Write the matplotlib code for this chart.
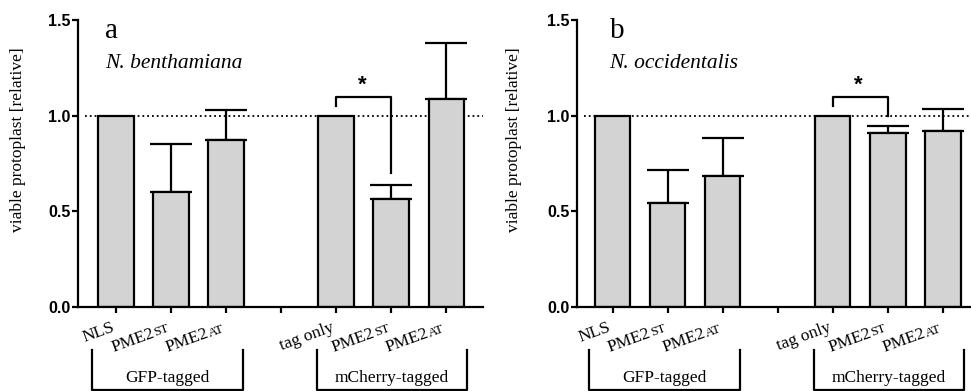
import numpy as np
import matplotlib
matplotlib.use("Agg")
import matplotlib.pyplot as plt
from matplotlib.transforms import ScaledTranslation
from matplotlib.font_manager import FontProperties

plt.rcParams['font.family'] = 'serif'
plt.rcParams['font.serif'] = ['Liberation Serif', 'DejaVu Serif']

# data
labels_main = ["NLS", "PME2", "PME2", "tag only", "PME2", "PME2"]
labels_sub = ["", "ST", "AT", "", "ST", "AT"]
groups = ["GFP-tagged", "mCherry-tagged"]

benth_mean = [1.0, 0.60, 0.875, 1.0, 0.565, 1.085]
benth_err = [0.0, 0.253, 0.156, 0.0, 0.075, 0.294]
occid_mean = [1.0, 0.545, 0.686, 1.0, 0.911, 0.921]
occid_err = [0.0, 0.172, 0.199, 0.0, 0.037, 0.116]

# significance: tag only vs PME2ST (mCherry), lower end of the bracket arm
benth_sig_end = 0.70
occid_sig_end = 1.0

GRAY = '#d3d3d3'
LW = 1.6

# bar positions: 3 bars, gap, 3 bars
xpos = np.r_[np.arange(3), np.arange(3) + 4]

fig = plt.figure(figsize=(9.71, 3.91), dpi=100)
ax1 = fig.add_axes([78 / 971, 84 / 391, 405 / 971, 287 / 391])
ax2 = fig.add_axes([577 / 971, 84 / 391, 394 / 971, 287 / 391])
renderer = fig.canvas.get_renderer()


def draw_panel(ax, means, errs, letter, species, sig_end, xlim, ylab_x):
    ax.bar(xpos, means, width=0.64, color=GRAY, edgecolor='black',
           linewidth=LW, zorder=2)
    errs = np.array(errs)
    m = errs > 0
    ax.errorbar(xpos[m], np.array(means)[m],
                yerr=[np.zeros(m.sum()), errs[m]],
                fmt='none', ecolor='black', elinewidth=LW, capsize=15,
                capthick=LW, zorder=1)
    ax.axhline(1.0, xmin=0.017, xmax=1, color='black', ls=':', lw=1.3,
               zorder=0, clip_on=False)

    ax.set_xlim(*xlim)
    ax.set_ylim(0, 1.5)
    ax.set_yticks([0, 0.5, 1.0, 1.5])
    ax.set_yticklabels(['0.0', '0.5', '1.0', '1.5'])
    for lab in ax.get_yticklabels():
        lab.set_fontfamily('Liberation Sans')
        lab.set_fontweight('bold')
        lab.set_fontsize(11.5)
    ax.set_xticks(np.arange(7))
    ax.set_xticklabels([])
    for s in ['top', 'right']:
        ax.spines[s].set_visible(False)
    for s in ['left', 'bottom']:
        ax.spines[s].set_linewidth(LW)
    ax.tick_params(axis='both', direction='out', length=4.5, width=LW, pad=1)

    ax.set_ylabel('viable protoplast [relative]', fontsize=12.5, va='center')
    ax.yaxis.set_label_coords(ylab_x, 0.582)

    ax.text(letter[1], 1.408, letter[0], fontsize=21, ha='left',
            va='baseline')
    ax.text(letter[1], 1.25, species, fontsize=15.5, style='italic',
            ha='left', va='baseline')

    # significance bracket
    ax.plot([4, 4, 5, 5], [1.05, 1.10, 1.10, sig_end], color='black',
            lw=LW, clip_on=False)
    ax.text(4.47, 1.16, '*', fontsize=16, fontweight='bold',
            family='Liberation Sans', ha='center', va='center')

    # rotated category labels with small-cap suffix
    ang = np.deg2rad(20)
    fp_sub = FontProperties(family='Liberation Serif', size=9.5)
    for x, main, sub in zip(xpos, labels_main, labels_sub):
        ox, oy = -1, -24
        if sub:
            tr = ax.transData + ScaledTranslation(ox / 100, oy / 100,
                                                  fig.dpi_scale_trans)
            ax.text(x, 0, sub, fontproperties=fp_sub, rotation=20,
                    rotation_mode='anchor', ha='right', va='baseline',
                    transform=tr, clip_on=False)
            w, _, _ = renderer.get_text_width_height_descent(sub, fp_sub,
                                                             ismath=False)
            ox -= w * np.cos(ang) + 0.5
            oy -= w * np.sin(ang)
        tr = ax.transData + ScaledTranslation(ox / 100, oy / 100,
                                              fig.dpi_scale_trans)
        ax.text(x, 0, main, fontsize=12.5, rotation=20,
                rotation_mode='anchor', ha='right', va='baseline',
                transform=tr, clip_on=False)

    # group brackets below
    spans = [(-0.44, 2.31), (3.65, 6.38)]
    for (a, b), g in zip(spans, groups):
        ax.plot([a, a, b, b], [-0.225, -0.433, -0.433, -0.225],
                color='black', lw=LW, clip_on=False)
        ax.text((a + b) / 2, -0.372, g, fontsize=12.5, ha='center',
                va='center')


draw_panel(ax1, benth_mean, benth_err, ('a', -0.2), 'N. benthamiana',
           benth_sig_end, (-0.69, 6.67), -0.148)
draw_panel(ax2, occid_mean, occid_err, ('b', -0.06), 'N. occidentalis',
           occid_sig_end, (-0.65, 6.51), -0.16)

fig.savefig('out.png', dpi=100)
